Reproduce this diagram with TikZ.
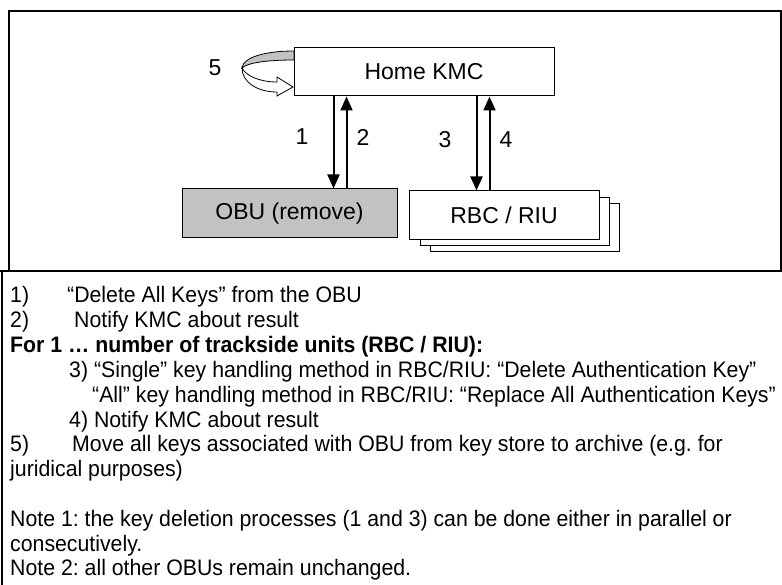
\documentclass[tikz,border=0pt]{standalone}
\usepackage{fontspec}
\setmainfont{Liberation Sans}
\newfontfamily\bodyfont[FakeStretch=0.95]{Liberation Sans}
\usetikzlibrary{arrows.meta}

\tikzset{
    box/.style={draw, line width=1pt, inner sep=0pt, font=\fontsize{23}{25}\selectfont},
    flow/.style={line width=2pt, -{Triangle[width=12pt,length=14pt]}},
    num/.style={inner sep=0pt, font=\fontsize{23}{25}\selectfont},
    txt/.style={anchor=base west, inner sep=0pt, font=\bodyfont\fontsize{22.4}{24.8}\selectfont\frenchspacing},
}

\begin{document}
\begin{tikzpicture}[x=1pt, y=-1pt]
    \useasboundingbox (0,0) rectangle (782,585);

    % Frames
    \draw[line width=1.4pt] (9,271) -- (9,11) -- (781,11) -- (781,271);
    \draw[line width=1.4pt] (0,271) -- (782,271);
    \draw[line width=1.4pt] (2,271) -- (2,590);

    % Boxes
    \node[box, minimum width=260pt, minimum height=48pt] (kmc) at (424,72) {Home KMC};
    \node[box, fill=black!24, minimum width=215pt, minimum height=49pt] (obu) at (289.5,213.5) {OBU (remove)};
    \foreach \dx/\dy [count=\i] in {21/12.5, 11/6.5} {
        \node[box, fill=white, minimum width=189pt, minimum height=48pt] (rbc\i) at (504+\dx,215.5+\dy) {};
    }
    \node[box, fill=white, minimum width=190pt, minimum height=49pt] (rbc) at (504,215.5) {RBC / RIU};

    % Messages
    \coordinate (a1) at ([xshift=40pt]kmc.south west);
    \coordinate (a2) at ([xshift=53pt]kmc.south west);
    \coordinate (a3) at ([xshift=183pt]kmc.south west);
    \coordinate (a4) at ([xshift=196pt]kmc.south west);
    \draw[flow] (a1) -- (a1 |- obu.north);
    \draw[flow] (a2 |- obu.north) -- (a2);
    \draw[flow] (a3) -- (a3 |- rbc.north);
    \draw[flow] (a4 |- rbc.north) -- (a4);

    \node[num] (n1) at (302,137) {1};
    \node[num] (n2) at (363,137) {2};
    \node[num] (n3) at (445,140) {3};
    \node[num] (n4) at (506,140) {4};
    \node[num] (n5) at (215,68) {5};

    % Loop arrow (5)
    \draw[fill=black!24, line width=0.8pt]
        (294,51) .. controls (266,51) and (243,57) .. (242,68)
        .. controls (247,63) and (266,60) .. (294,60) -- cycle;
    \draw[fill=white, line width=0.8pt]
        (242,68) .. controls (246,76) and (260,82) .. (277,82)
        -- (277,77) -- (293,87) -- (277,96) -- (277,92)
        .. controls (257,92) and (242,82) .. (242,68) -- cycle;

    % Description
    \node[txt] (t1n) at (10,303) {1)};
    \node[txt] (t1) at (67,303) {“Delete All Keys” from the OBU};
    \node[txt] (t2n) at (10,327.8) {2)};
    \node[txt] (t2) at (74,327.8) {Notify KMC about result};
    \node[txt, font=\bodyfont\fontsize{22.4}{24.8}\selectfont\bfseries] (t3) at (10,352.6) {For 1 … number of trackside units (RBC / RIU):};
    \node[txt] (t4) at (69,377.4) {3) “Single” key handling method in RBC/RIU: “Delete Authentication Key”};
    \node[txt] (t5) at (92,402.2) {“All” key handling method in RBC/RIU: “Replace All Authentication Keys”};
    \node[txt] (t6) at (69,427) {4) Notify KMC about result};
    \node[txt] (t7n) at (10,451.8) {5)};
    \node[txt] (t7) at (72,451.8) {Move all keys associated with OBU from key store to archive (e.g. for};
    \node[txt] (t8) at (10,476.6) {juridical purposes)};

    % Notes
    \node[txt] (t9) at (10,526.2) {Note 1: the key deletion processes (1 and 3) can be done either in parallel or};
    \node[txt] (t10) at (10,551) {consecutively.};
    \node[txt] (t11) at (10,575.8) {Note 2: all other OBUs remain unchanged.};
\end{tikzpicture}
\end{document}
